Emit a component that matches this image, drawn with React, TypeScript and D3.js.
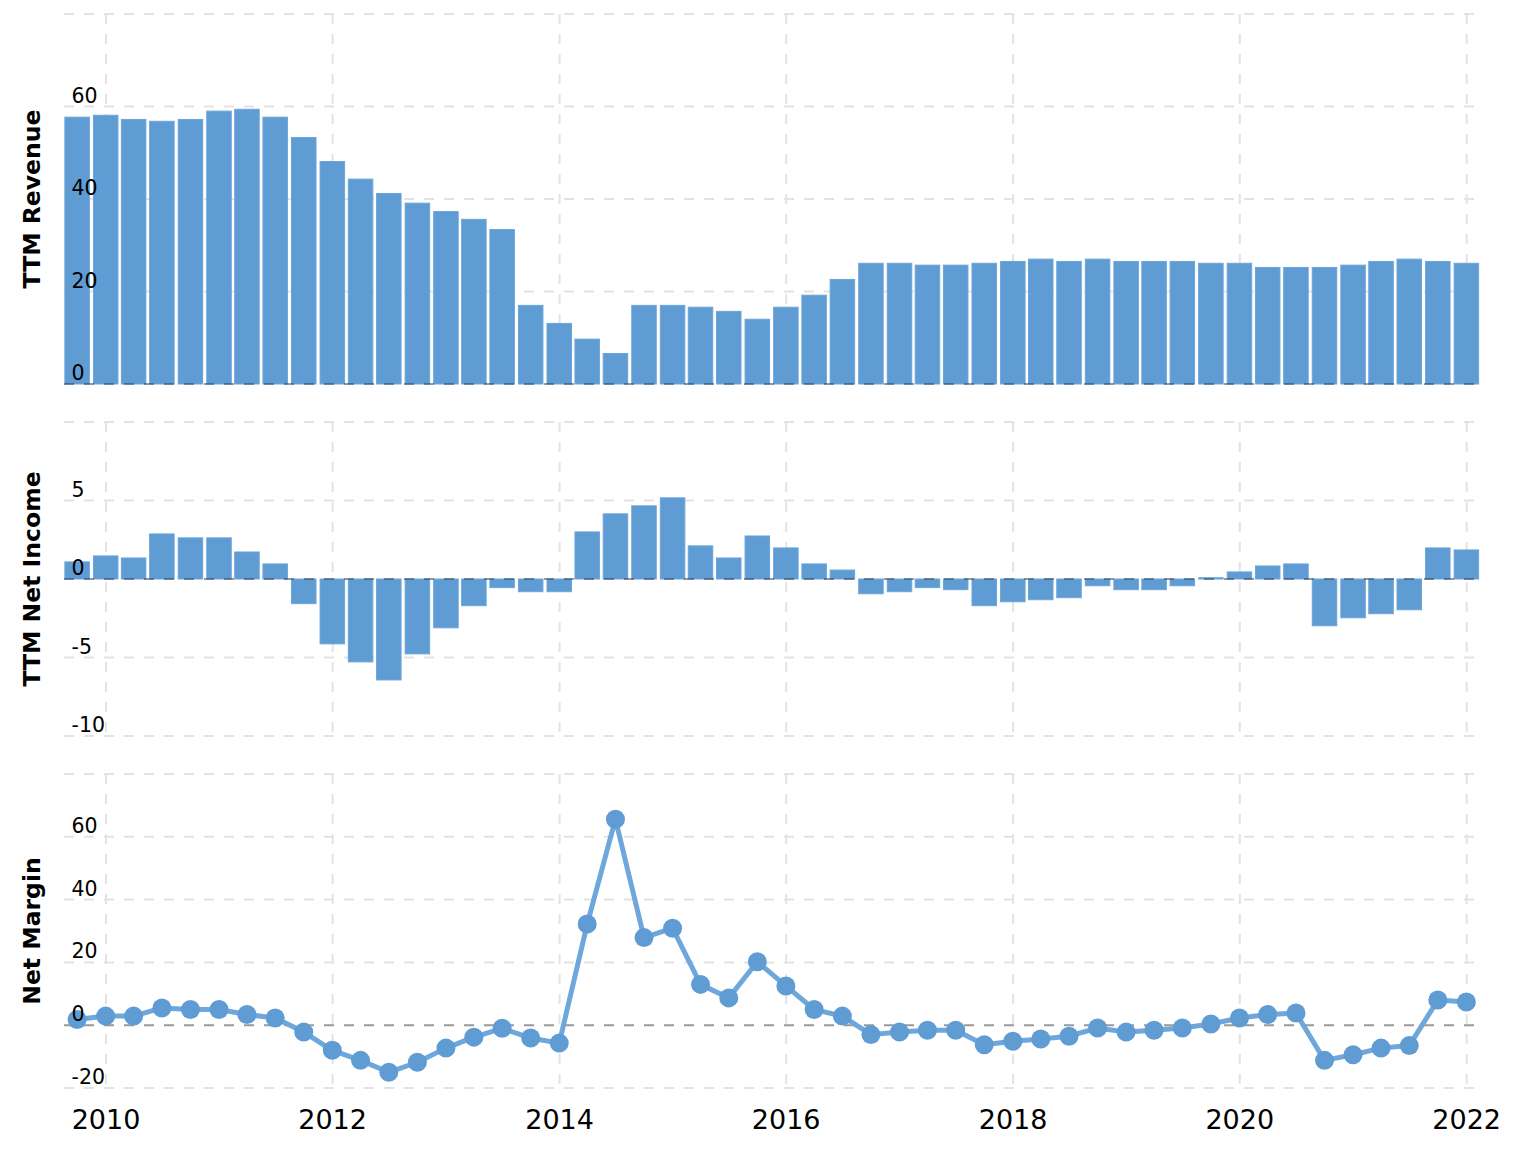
import React from "react";
import * as d3 from "d3";

const quarterEnds = [
  "2009-09-30", "2009-12-31",
  "2010-03-31", "2010-06-30", "2010-09-30", "2010-12-31",
  "2011-03-31", "2011-06-30", "2011-09-30", "2011-12-31",
  "2012-03-31", "2012-06-30", "2012-09-30", "2012-12-31",
  "2013-03-31", "2013-06-30", "2013-09-30", "2013-12-31",
  "2014-03-31", "2014-06-30", "2014-09-30", "2014-12-31",
  "2015-03-31", "2015-06-30", "2015-09-30", "2015-12-31",
  "2016-03-31", "2016-06-30", "2016-09-30", "2016-12-31",
  "2017-03-31", "2017-06-30", "2017-09-30", "2017-12-31",
  "2018-03-31", "2018-06-30", "2018-09-30", "2018-12-31",
  "2019-03-31", "2019-06-30", "2019-09-30", "2019-12-31",
  "2020-03-31", "2020-06-30", "2020-09-30", "2020-12-31",
  "2021-03-31", "2021-06-30", "2021-09-30", "2021-12-31",
];

const ttmRevenue = [
  57.7, 58.1, 57.2, 56.8, 57.2, 59.0, 59.4, 57.7, 53.3, 48.1,
  44.3, 41.2, 39.1, 37.3, 35.6, 33.4, 17.0, 13.1, 9.7, 6.6,
  17.0, 17.0, 16.6, 15.7, 14.0, 16.6, 19.2, 22.6, 26.1, 26.1,
  25.7, 25.7, 26.1, 26.5, 27.0, 26.5, 27.0, 26.5, 26.5, 26.5,
  26.1, 26.1, 25.2, 25.2, 25.2, 25.7, 26.5, 27.0, 26.5, 26.1,
];

const ttmNetIncome = [
  1.09, 1.47, 1.34, 2.87, 2.62, 2.62, 1.72, 0.96, -1.57, -4.13,
  -5.28, -6.43, -4.77, -3.11, -1.7, -0.55, -0.81, -0.81, 3.0, 4.15,
  4.66, 5.17, 2.11, 1.34, 2.74, 1.98, 0.96, 0.57, -0.94, -0.81,
  -0.55, -0.68, -1.7, -1.45, -1.32, -1.19, -0.43, -0.68, -0.68, -0.43,
  0.08, 0.45, 0.83, 0.96, -2.98, -2.47, -2.21, -1.96, 1.98, 1.85,
];

const netMargin = [
  1.8, 2.9, 2.9, 5.5, 5.0, 5.0, 3.4, 2.3, -2.2, -8.0,
  -11.2, -15.0, -11.8, -7.3, -3.8, -1.0, -4.1, -5.7, 32.2, 65.6,
  27.9, 30.9, 13.0, 8.7, 20.2, 12.5, 5.0, 2.9, -3.0, -2.2,
  -1.6, -1.6, -6.2, -5.1, -4.4, -3.5, -0.9, -2.2, -1.6, -0.9,
  0.4, 2.3, 3.4, 3.9, -11.2, -9.4, -7.3, -6.5, 8.0, 7.4,
];

const xTickYears = [2010, 2012, 2014, 2016, 2018, 2020, 2022];
const revenueGrid = [0, 20, 40, 60, 80];
const revenueLabels = [0, 20, 40, 60];
const incomeGrid = [-10, -5, 0, 5, 10];
const incomeLabels = [-10, -5, 0, 5];
const marginGrid = [-20, 0, 20, 40, 60, 80];
const marginLabels = [-20, 0, 20, 40, 60];

const W = 1524;
const H = 1154;
const LEFT = 64;
const RIGHT = 1474;
const BAR_COLOR = "#5f9cd4";
const LINE_COLOR = "#6ea7dc";
const GRID = "#e3e3e3";
const FONT = "'DejaVu Sans', Verdana, sans-serif";

const parse = d3.timeParse("%Y-%m-%d");
const dates = quarterEnds.map((s) => parse(s) as Date);

const x = d3
  .scaleTime()
  .domain([new Date(2010, 0, 1), new Date(2022, 0, 1)])
  .range([106, 1466.7]);

const yRev = d3.scaleLinear().domain([0, 80]).range([384, 14]);
const yInc = d3.scaleLinear().domain([-10, 10]).range([736, 422]);
const yMar = d3.scaleLinear().domain([-20, 80]).range([1088, 774]);

const BAR_W = 24.5;

type Lin = d3.ScaleLinear<number, number>;

function Grid({ y, grid }: { y: Lin; grid: number[] }) {
  const [d0, d1] = y.domain();
  const top = y(d1);
  const bottom = y(d0);
  return (
    <g>
      {grid.map((v) => (
        <line
          key={"h" + v}
          x1={LEFT}
          x2={RIGHT}
          y1={y(v)}
          y2={y(v)}
          stroke={GRID}
          strokeWidth={2}
          strokeDasharray="10,10"
        />
      ))}
      {xTickYears.map((yr) => {
        const xx = x(new Date(yr, 0, 1));
        return (
          <line
            key={"v" + yr}
            x1={xx}
            x2={xx}
            y1={top}
            y2={bottom}
            stroke={GRID}
            strokeWidth={2}
            strokeDasharray="10,10"
          />
        );
      })}
    </g>
  );
}

function Labels({ y, labels, title }: { y: Lin; labels: number[]; title: string }) {
  const [d0, d1] = y.domain();
  const top = y(d1);
  const bottom = y(d0);
  return (
    <g>
      {labels.map((v) => (
        <text
          key={"l" + v}
          x={71.5}
          y={y(v) - 4}
          fontFamily={FONT}
          fontSize={20.5}
          fill="#000"
        >
          {v}
        </text>
      ))}
      <text
        transform={`translate(40, ${(top + bottom) / 2}) rotate(-90)`}
        textAnchor="middle"
        fontFamily={FONT}
        fontWeight="bold"
        fontSize={23.5}
        fill="#000"
      >
        {title}
      </text>
    </g>
  );
}

function ZeroLine({ y }: { y: Lin }) {
  return (
    <line
      x1={LEFT}
      x2={RIGHT}
      y1={y(0)}
      y2={y(0)}
      stroke="rgba(0,0,0,0.32)"
      strokeWidth={2}
      strokeDasharray="10,10"
    />
  );
}

export default function App() {
  const line = d3
    .line<number>()
    .x((_, i) => x(dates[i]))
    .y((d) => yMar(d));

  return (
    <svg
      width={W}
      height={H}
      style={{ position: "absolute", left: 0, top: 0, background: "#fff" }}
    >
      <rect width={W} height={H} fill="#fff" />
      <Grid y={yRev} grid={revenueGrid} />
      {ttmRevenue.map((v, i) => (
        <rect
          key={"r" + i}
          x={x(dates[i]) - BAR_W / 2}
          width={BAR_W}
          y={yRev(v)}
          height={yRev(0) - yRev(v)}
          fill={BAR_COLOR}
          stroke="#6aa5da"
          strokeWidth={1}
        />
      ))}
      <ZeroLine y={yRev} />
      <Labels y={yRev} labels={revenueLabels} title="TTM Revenue" />

      <Grid y={yInc} grid={incomeGrid} />
      {ttmNetIncome.map((v, i) => (
        <rect
          key={"n" + i}
          x={x(dates[i]) - BAR_W / 2}
          width={BAR_W}
          y={Math.min(yInc(v), yInc(0))}
          height={Math.abs(yInc(v) - yInc(0))}
          fill={BAR_COLOR}
          stroke="#6aa5da"
          strokeWidth={1}
        />
      ))}
      <ZeroLine y={yInc} />
      <Labels y={yInc} labels={incomeLabels} title="TTM Net Income" />

      <Grid y={yMar} grid={marginGrid} />
      <ZeroLine y={yMar} />
      <path
        d={line(netMargin) || ""}
        fill="none"
        stroke={LINE_COLOR}
        strokeWidth={5}
        strokeLinejoin="round"
      />
      {netMargin.map((v, i) => (
        <circle key={"c" + i} cx={x(dates[i])} cy={yMar(v)} r={9.5} fill={BAR_COLOR} />
      ))}
      <Labels y={yMar} labels={marginLabels} title="Net Margin" />

      {xTickYears.map((yr) => (
        <text
          key={"t" + yr}
          x={x(new Date(yr, 0, 1))}
          y={1129}
          textAnchor="middle"
          fontFamily={FONT}
          fontSize={27}
          fill="#000"
        >
          {yr}
        </text>
      ))}
    </svg>
  );
}
